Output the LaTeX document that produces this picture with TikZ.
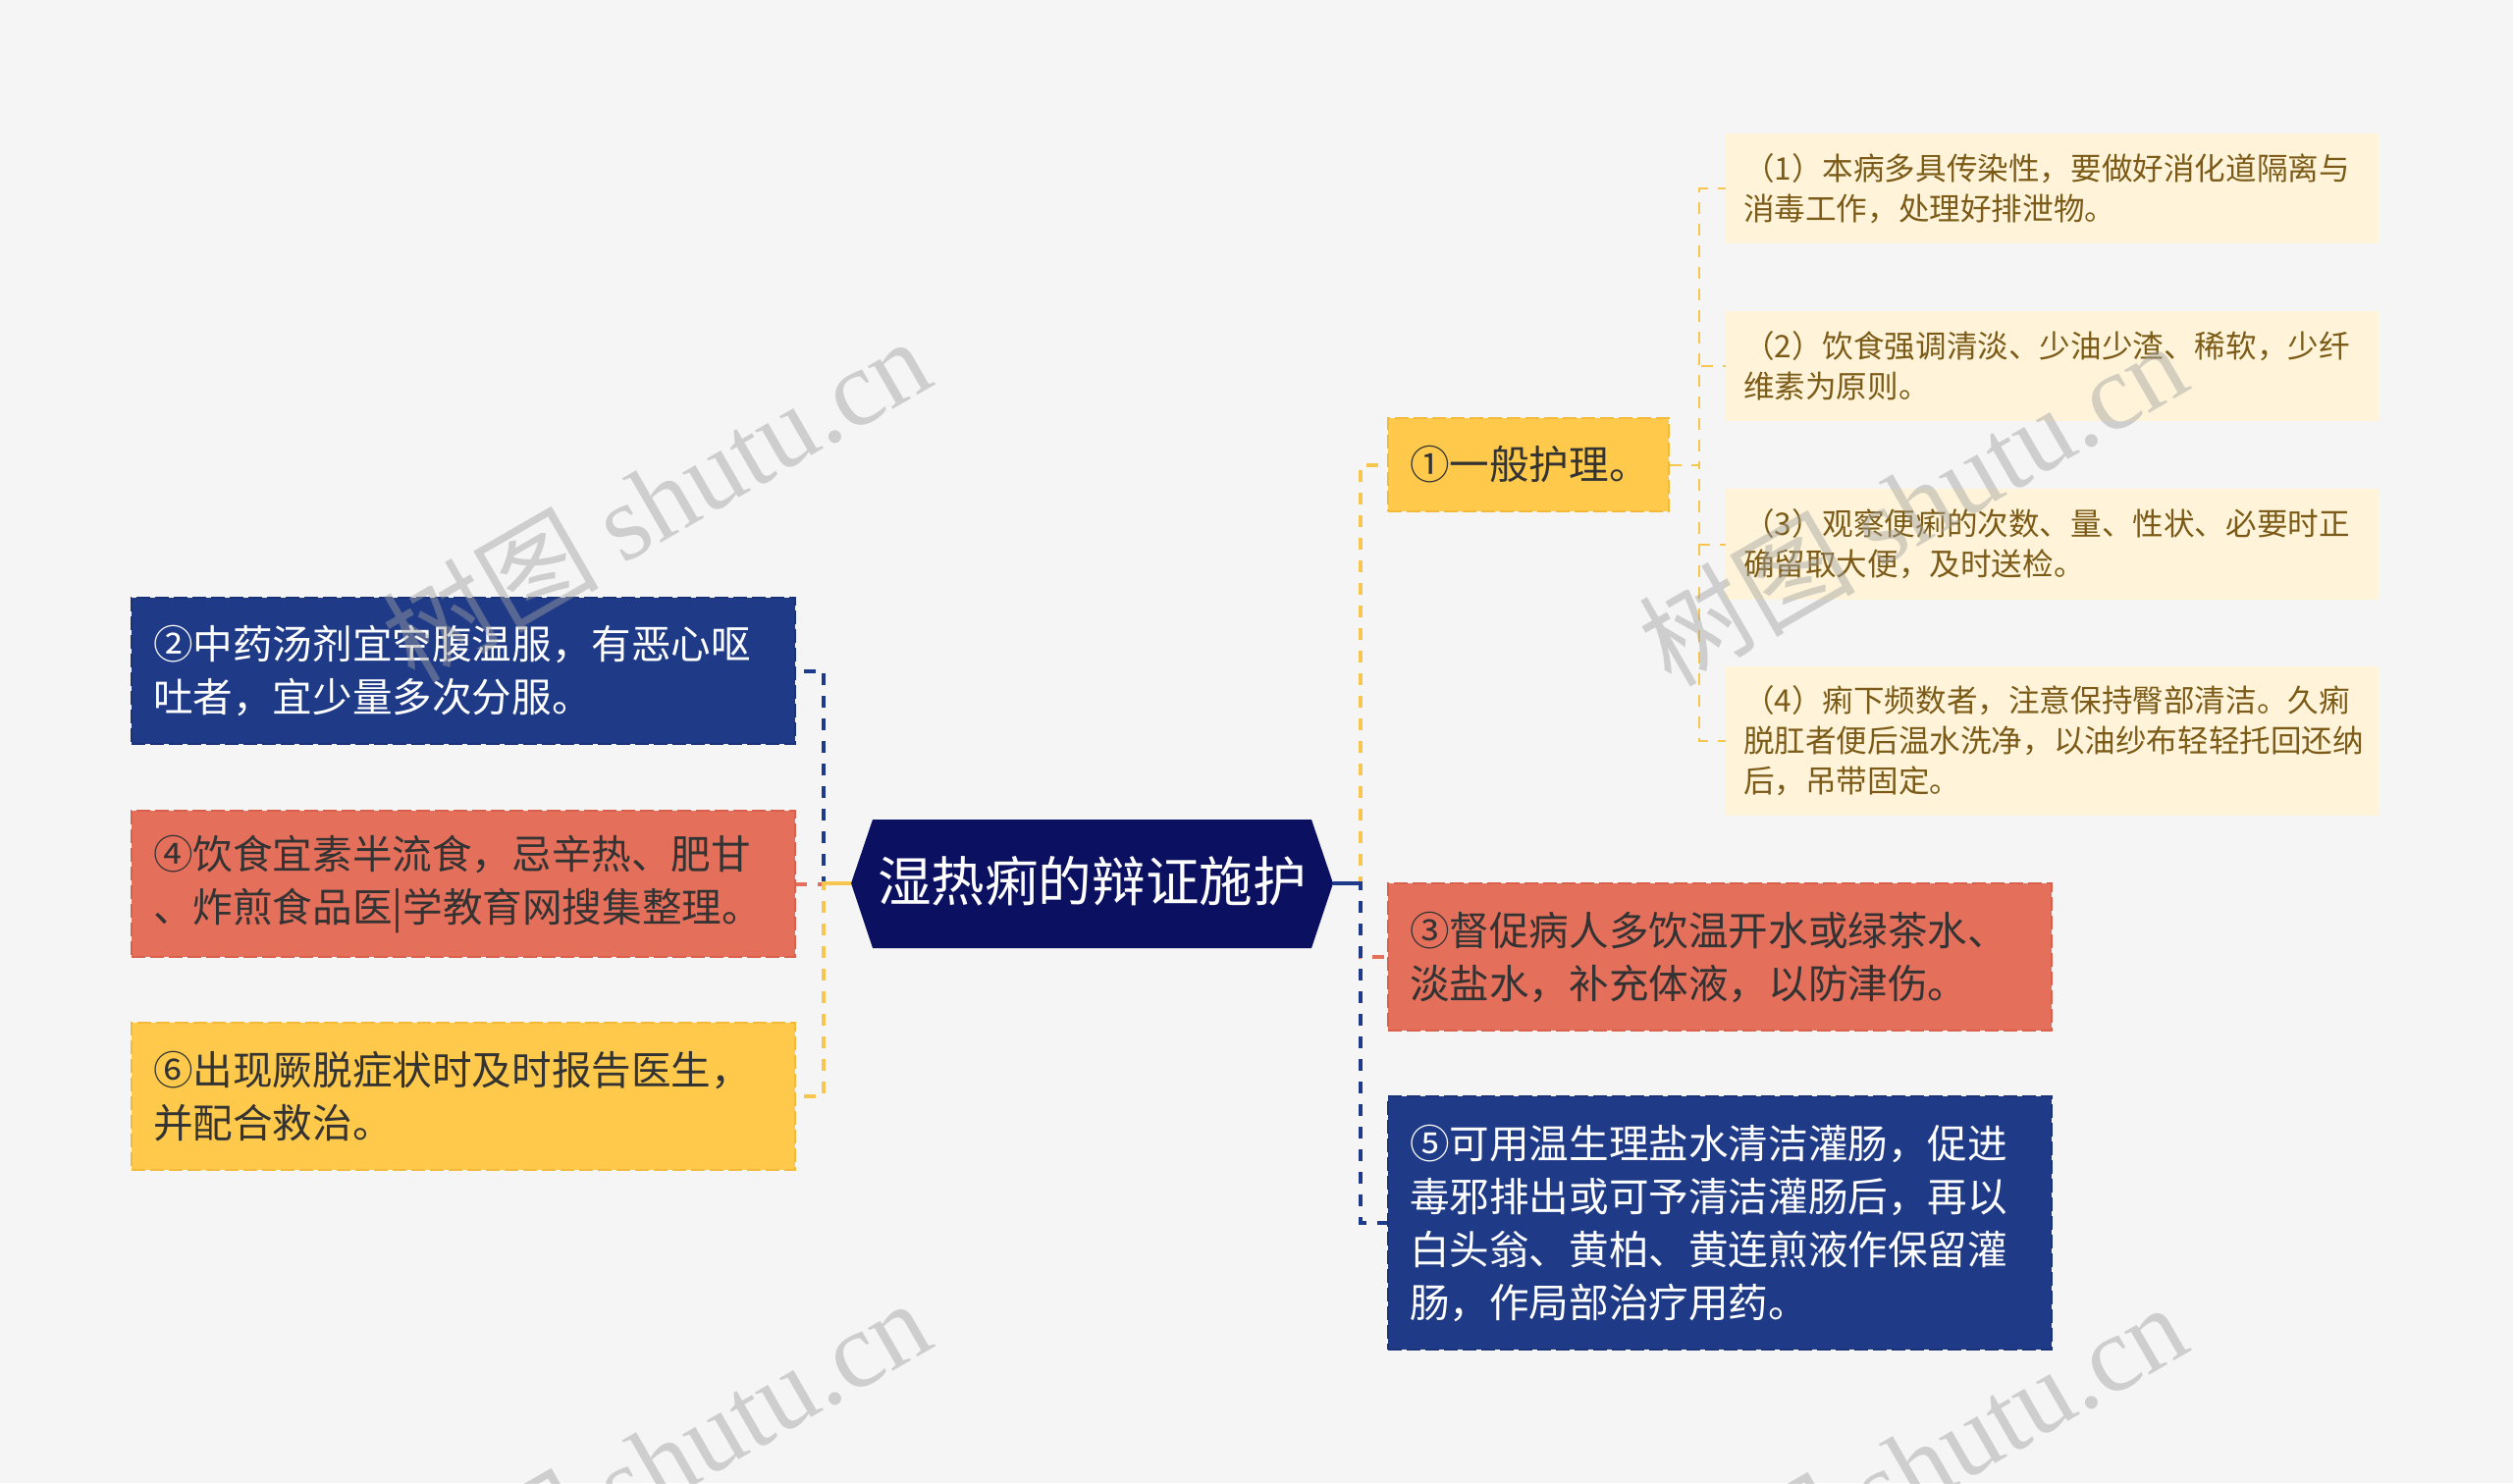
\documentclass[tikz,border=0pt]{standalone}
\usepackage{fontspec}
\setmainfont{Noto Sans CJK SC}
\newfontfamily\cjk{Noto Sans CJK SC}
\newfontfamily\wmfont{Liberation Serif}
\usetikzlibrary{calc}
\definecolor{bgc}{HTML}{F5F5F5}
\definecolor{rootc}{HTML}{0B1060}
\definecolor{blueF}{HTML}{1F3B88}
\definecolor{blueB}{HTML}{1A3278}
\definecolor{salF}{HTML}{E46F5B}
\definecolor{salB}{HTML}{D8604C}
\definecolor{yelF}{HTML}{FFCA4B}
\definecolor{yelB}{HTML}{F2BA38}
\definecolor{subF}{HTML}{FFF4DA}
\definecolor{subT}{HTML}{7B5B17}
\definecolor{darkT}{HTML}{333333}
\definecolor{cnavc}{HTML}{1E3A8A}
\definecolor{csalc}{HTML}{E4705C}
\definecolor{cyelc}{HTML}{F7C64E}
\definecolor{wmc}{HTML}{A0A0A0}
\tikzset{
  mainbox/.style={line width=1pt, dash pattern=on 7pt off 2.5pt, inner xsep=11pt, inner ysep=0pt,
    text width=#1, align=left, font=\fontsize{20.3pt}{27pt}\selectfont},
  bluebox/.style={mainbox=#1, fill=blueF, draw=blueB, text=white},
  salbox/.style={mainbox=#1, fill=salF, draw=salB, text=darkT},
  yelbox/.style={mainbox=#1, fill=yelF, draw=yelB, text=darkT},
  subbox/.style={fill=subF, inner xsep=9pt, inner ysep=0pt, text width=314.5pt, minimum width=332.5pt,
    align=left, text=subT, font=\fontsize{15.8pt}{20.5pt}\selectfont},
  conn/.style={line width=2pt, dash pattern=on 6pt off 5.5pt},
  cnav/.style={conn, draw=cnavc},
  csal/.style={conn, draw=csalc},
  cyel/.style={conn, draw=cyelc},
  csub/.style={line width=1pt, dash pattern=on 6pt off 5pt, draw=cyelc},
  wm/.style={rotate=30, text=wmc, text opacity=0.45, font=\fontsize{55pt}{55pt}\selectfont}
}
\begin{document}
\begin{tikzpicture}[x=0.5pt,y=-0.5pt]
\fill[bgc] (0,0) rectangle (2560,1511);
\useasboundingbox (0,0) rectangle (2560,1511);

% root
\coordinate (rootL) at (867,900);
\coordinate (rootR) at (1358,900);
\fill[rootc] (rootL) -- (889,835) -- (1336,835) -- (rootR) -- (1336,966) -- (889,966) -- cycle;
\node[text=white, font=\fontsize{27.3pt}{30pt}\selectfont] (root) at (1112.5,898) {湿热痢的辩证施护};

% left children
\node[bluebox=316pt, minimum width=338pt, minimum height=74.5pt] (n2) at (472,683.5)
  {②中药汤剂宜空腹温服，有恶心呕\\吐者，宜少量多次分服。};
\node[salbox=316pt, minimum width=338pt, minimum height=74.5pt] (n4) at (472,900.5)
  {④饮食宜素半流食，忌辛热、肥甘\\、炸煎食品医|学教育网搜集整理。};
\node[yelbox=316pt, minimum width=338pt, minimum height=75pt] (n6) at (472,1117)
  {⑥出现厥脱症状时及时报告医生，\\并配合救治。};

% right children
\node[yelbox=121pt, minimum width=143pt, minimum height=47.5pt] (n1) at (1557,473.5)
  {①一般护理。};
\node[salbox=316pt, minimum width=338pt, minimum height=75pt] (n3) at (1752,975)
  {③督促病人多饮温开水或绿茶水、\\淡盐水，补充体液，以防津伤。};
\node[bluebox=316pt, minimum width=338pt, minimum height=129pt] (n5) at (1752,1246)
  {⑤可用温生理盐水清洁灌肠，促进\\毒邪排出或可予清洁灌肠后，再以\\白头翁、黄柏、黄连煎液作保留灌\\肠，作局部治疗用药。};

% sub nodes
\node[subbox, minimum height=56pt] (s1) at (2090.5,192)
  {（1）本病多具传染性，要做好消化道隔离与\\消毒工作，处理好排泄物。};
\node[subbox, minimum height=56pt] (s2) at (2090.5,373)
  {（2）饮食强调清淡、少油少渣、稀软，少纤\\维素为原则。};
\node[subbox, minimum height=56.5pt] (s3) at (2090.5,554.5)
  {（3）观察便痢的次数、量、性状、必要时正\\确留取大便，及时送检。};
\node[subbox, minimum height=76pt] (s4) at (2090.5,755)
  {（4）痢下频数者，注意保持臀部清洁。久痢\\脱肛者便后温水洗净，以油纱布轻轻托回还纳\\后，吊带固定。};

% connectors left
\draw[cnav] (rootL) -- ++(-28,0) |- (n2.east);
\draw[csal] (rootL) -- ++(-28,0) |- (n4.east);
\draw[cyel] (rootL) -- ++(-28,0) |- (n6.east);
\draw[line width=2pt, draw=cyelc] (rootL) -- ++(-28,0);
% connectors right
\draw[cyel] (rootR) -- ++(28,0) |- (n1.west);
\draw[csal] (rootR) -- ++(28,0) |- (n3.west);
\draw[cnav] (rootR) -- ++(28,0) |- (n5.west);
\draw[line width=2pt, draw=cnavc] (rootR) -- ++(28,0);
% sub connectors
\draw[csub] (n1.east) -- ++(30,0) |- (s1.west);
\draw[csub] (n1.east) -- ++(30,0) |- (s2.west);
\draw[csub] (n1.east) -- ++(30,0) |- (s3.west);
\draw[csub] (n1.east) -- ++(30,0) |- (s4.west);

% watermarks
\node[wm] (wm1) at (668,508) {{\cjk 树图} {\wmfont shutu.cn}};
\node[wm] (wm2) at (1948,512) {{\cjk 树图} {\wmfont shutu.cn}};
\node[wm] (wm3) at (668,1488) {{\cjk 树图} {\wmfont shutu.cn}};
\node[wm] (wm4) at (1948,1492) {{\cjk 树图} {\wmfont shutu.cn}};
\end{tikzpicture}
\end{document}
